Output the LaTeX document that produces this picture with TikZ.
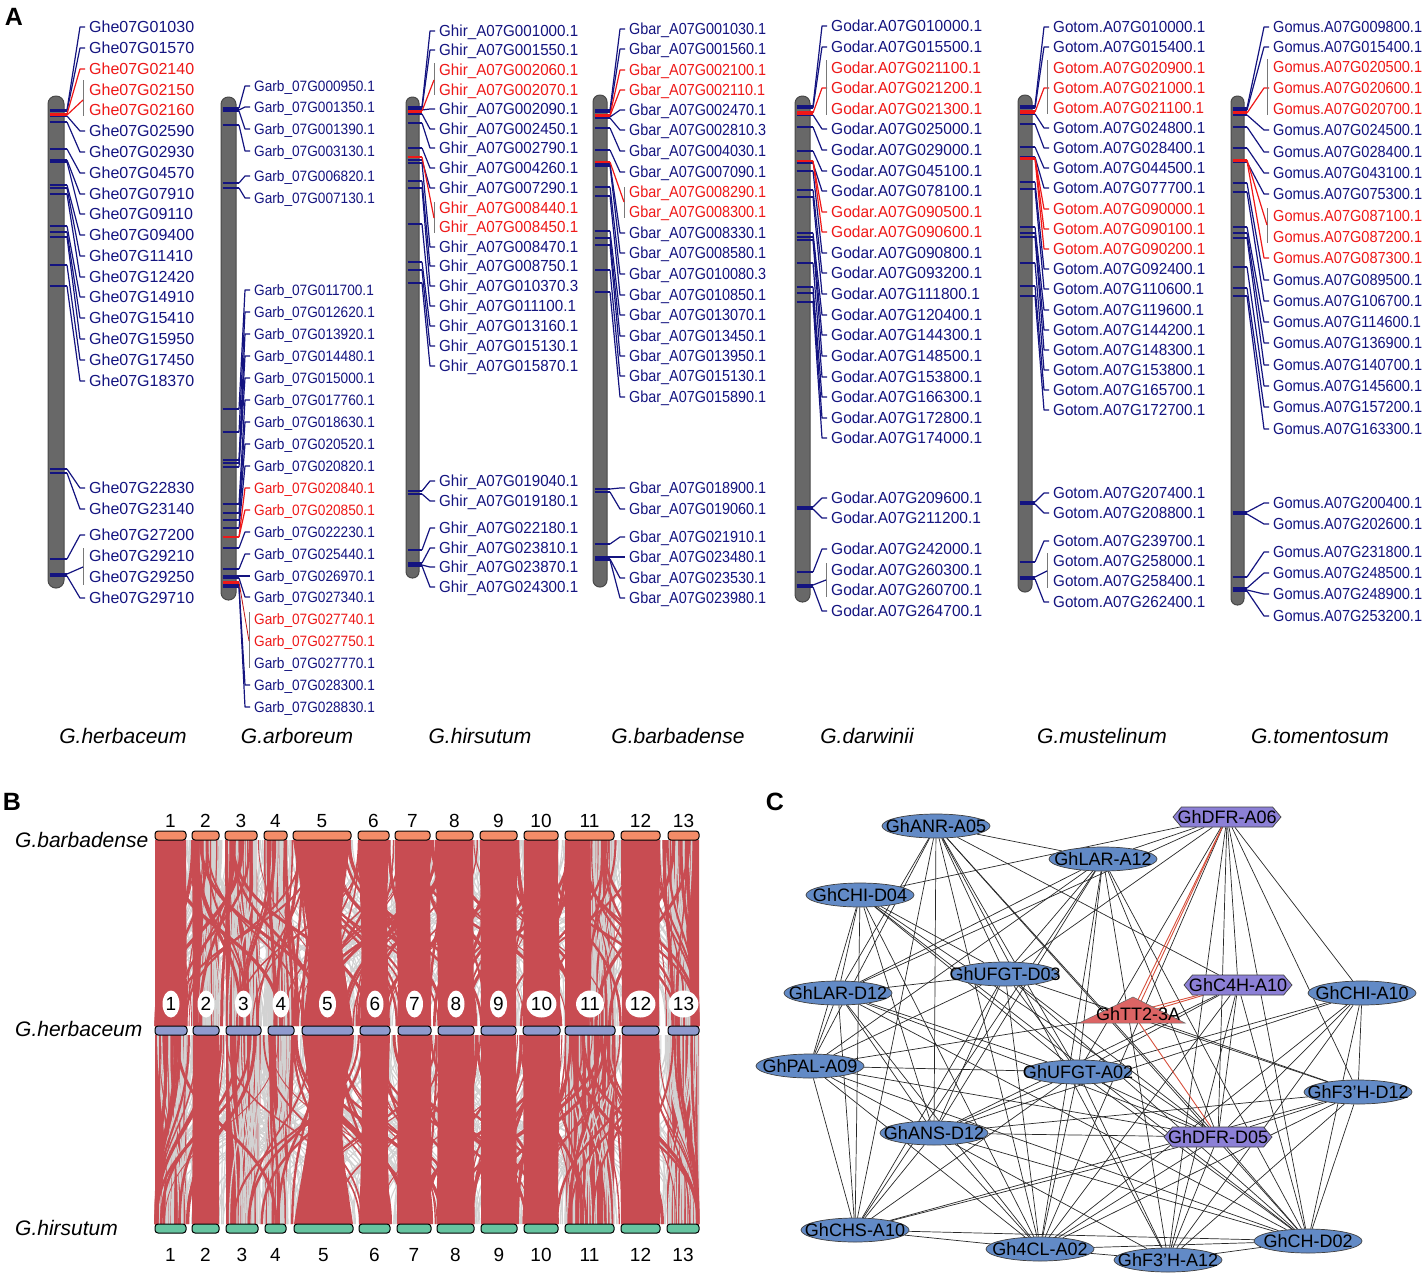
\documentclass[tikz,border=0pt]{standalone}
\usepackage{fontspec}
\setmainfont{Liberation Sans}
\usetikzlibrary{shapes.geometric,shapes.symbols}
\pgfdeclarelayer{bg}
\pgfdeclarelayer{paper}
\pgfsetlayers{paper,bg,main}
\definecolor{gnavy}{RGB}{20,20,128}
\definecolor{gred}{RGB}{238,24,24}
\definecolor{chromfill}{RGB}{104,104,104}
\definecolor{chromline}{RGB}{72,72,72}
\definecolor{brkgray}{RGB}{120,120,120}
\definecolor{ribred}{RGB}{200,76,82}
\definecolor{ribgray}{RGB}{210,210,210}
\definecolor{barT}{RGB}{243,140,104}
\definecolor{barM}{RGB}{143,154,206}
\definecolor{barB}{RGB}{102,196,160}
\definecolor{ellblue}{RGB}{98,138,198}
\definecolor{hexpurple}{RGB}{140,128,214}
\definecolor{trired}{RGB}{220,100,100}
\definecolor{edgeblack}{RGB}{40,40,40}
\definecolor{rededge}{RGB}{215,80,60}

% #1 id, #2 left x, #3 right x, #4 top, #5 bottom, #6 label x, #7 xscale, #8 font size, #9 data
\newcommand{\chromo}[9]{%
  \pgfmathsetmacro\rr{(#3-#2)/2-0.2}%
  \draw[chrom, rounded corners=\rr pt] (#2,#4) rectangle (#3,#5);
  \pgfmathsetmacro\txth{0.716*#8}%
  \foreach \nm/\ly/\my/\tp [count=\i] in {#9} {%
    \ifodd\tp\relax\colorlet{cc}{gred}\else\colorlet{cc}{gnavy}\fi
    \node[glabel, text=cc, font=\fontsize{#8}{#8}\selectfont, text height=\txth pt] (#1-\i) at (#6,\ly) {\scalebox{#7}[1]{\nm}};
    \coordinate (#1-m\i) at (#3+3,\my);
    \ifodd\tp\relax\else\draw[chrtick, draw=gnavy] (#2+1.5,\my) -- (#1-m\i);\fi
    \ifnum\tp<2\relax \draw[glink, draw=cc] (#1-m\i) -- (#6-9,\ly) -- ([xshift=-4pt]#1-\i.west);\fi
  }%
  \foreach \nm/\ly/\my/\tp [count=\i] in {#9} {%
    \ifodd\tp\relax \draw[chrtick, draw=gred, line width=1.9pt] (#2+1.5,\my) -- (#1-m\i);\fi
  }%
}

\begin{document}
\begin{tikzpicture}[x=1pt,y=-1pt,
  chrom/.style={fill=chromfill, draw=chromline, line width=1pt},
  glabel/.style={anchor=west, inner sep=0pt, text depth=0pt},
  chrtick/.style={line width=1.3pt},
  glink/.style={line width=1.2pt, line join=round},
  brk/.style={draw=brkgray, line width=0.9pt},
  spec/.style={font=\fontsize{21}{21}\selectfont\itshape, inner sep=0pt},
  plab/.style={font=\fontsize{25}{25}\selectfont\bfseries, inner sep=0pt},
  bnum/.style={font=\fontsize{19}{19}\selectfont, inner sep=0pt},
  mnum/.style={ellipse, fill=white, inner sep=0pt, minimum width=17pt, minimum height=27pt, font=\fontsize{19}{19}\selectfont},
  bar/.style={draw=black, line width=1pt, rounded corners=3pt},
  gene/.style={ellipse, draw=black!75, line width=0.7pt, fill=ellblue, minimum width=108pt, minimum height=24pt, inner sep=0pt},
  hexa/.style={signal, signal to=east and west, signal pointer angle=100, draw=black!75, line width=0.7pt, fill=hexpurple, minimum width=108pt, minimum height=20pt, inner sep=0pt},
  clabel/.style={font=\fontsize{18}{18}\selectfont, inner sep=0pt, text=black},
  edge/.style={draw=edgeblack, line width=0.7pt},
  redge/.style={draw=rededge, line width=0.9pt}
]
\useasboundingbox (0,0) rectangle (1426,1280);
\begin{pgfonlayer}{paper}
\fill[white] (0,0) rectangle (1426,1280);
\end{pgfonlayer}

%================ Panel A ================
\node[plab] (pA) at (14,17) {A};

\chromo{c1}{48}{64}{96}{588}{89}{1.0}{16}{%
Ghe07G01030/27/110/0, Ghe07G01570/48/111/0, Ghe07G02140/69/114/1, Ghe07G02150/90/115/3, Ghe07G02160/110/115/3,
Ghe07G02590/131/116/0, Ghe07G02930/152/122/0, Ghe07G04570/173/149/0, Ghe07G07910/194/160/0, Ghe07G09110/214/162/0,
Ghe07G09400/235/185/0, Ghe07G11410/256/188/0, Ghe07G12420/277/194/0, Ghe07G14910/297/226/0, Ghe07G15410/318/232/0,
Ghe07G15950/339/237/0, Ghe07G17450/360/265/0, Ghe07G18370/381/286/0, Ghe07G22830/488/469/0, Ghe07G23140/509/473/0,
Ghe07G27200/535/559/0, Ghe07G29210/556/574/2, Ghe07G29250/577/575/2, Ghe07G29710/598/576/0}
\draw[brk] (83,80) -- (83,116);
\coordinate (c1-b1) at (83,100);
\draw[glink, draw=gred] (c1-m4) -- (c1-b1);
\draw[brk] (83,548) -- (83,585);
\coordinate (c1-b2) at (83,567);
\draw[glink, draw=gnavy] (c1-m22) -- (c1-b2);

\chromo{c2}{221}{236}{97}{600}{254}{0.91}{15}{%
Garb\_07G000950.1/86/108/0, Garb\_07G001350.1/107/110/0, Garb\_07G001390.1/129/111/0, Garb\_07G003130.1/151/125/0,
Garb\_07G006820.1/176/183/0, Garb\_07G007130.1/198/188/0, Garb\_07G011700.1/290/409/0, Garb\_07G012620.1/312/432/0,
Garb\_07G013920.1/334/460/0, Garb\_07G014480.1/356/463/0, Garb\_07G015000.1/378/467/0, Garb\_07G017760.1/400/504/0,
Garb\_07G018630.1/422/513/0, Garb\_07G020520.1/444/520/0, Garb\_07G020820.1/466/528/0, Garb\_07G020840.1/488/537/1,
Garb\_07G020850.1/510/537/1, Garb\_07G022230.1/532/548/0, Garb\_07G025440.1/554/569/0, Garb\_07G026970.1/576/576/0,
Garb\_07G027340.1/597/578/0, Garb\_07G027740.1/619/582/3, Garb\_07G027750.1/641/583/3, Garb\_07G027770.1/663/584/2,
Garb\_07G028300.1/685/586/0, Garb\_07G028830.1/707/587/0}
\draw[brk] (249,612) -- (249,668);
\coordinate (c2-b1) at (249,641);
\draw[draw=gred!80!black, line width=0.8pt] (c2-m22) -- (c2-b1);

\chromo{c3}{406}{419}{97}{578}{439}{0.947}{16}{%
Ghir\_A07G001000.1/31/107/0, Ghir\_A07G001550.1/50/108/0, Ghir\_A07G002060.1/70/111/3, Ghir\_A07G002070.1/90/112/3,
Ghir\_A07G002090.1/109/110/0, Ghir\_A07G002450.1/129/114/0, Ghir\_A07G002790.1/148/123/0, Ghir\_A07G004260.1/168/148/0,
Ghir\_A07G007290.1/188/160/0, Ghir\_A07G008440.1/208/157/3, Ghir\_A07G008450.1/227/157/3, Ghir\_A07G008470.1/247/163/0,
Ghir\_A07G008750.1/266/181/0, Ghir\_A07G010370.3/286/188/0, Ghir\_A07G011100.1/306/224/0, Ghir\_A07G013160.1/326/262/0,
Ghir\_A07G015130.1/346/270/0, Ghir\_A07G015870.1/366/283/0, Ghir\_A07G019040.1/481/491/0, Ghir\_A07G019180.1/501/494/0,
Ghir\_A07G022180.1/528/550/0, Ghir\_A07G023810.1/548/563/0, Ghir\_A07G023870.1/567/565/0, Ghir\_A07G024300.1/587/566/0}
\draw[brk] (434,63) -- (434,95);
\coordinate (c3-b1) at (434,80);
\draw[glink, draw=gred] (c3-m3) -- (c3-b1);
\draw[brk] (434,202) -- (434,233);
\coordinate (c3-b2) at (434,218);
\draw[glink, draw=gred] (c3-m10) -- (c3-b2);

\chromo{c4}{593}{607}{95}{587}{629}{0.90}{16}{%
Gbar\_A07G001030.1/29/110/0, Gbar\_A07G001560.1/49/112/0, Gbar\_A07G002100.1/70/115/1, Gbar\_A07G002110.1/90/116/1,
Gbar\_A07G002470.1/110/117/0, Gbar\_A07G002810.3/130/118/0, Gbar\_A07G004030.1/151/128/0, Gbar\_A07G007090.1/172/150/0,
Gbar\_A07G008290.1/192/162/3, Gbar\_A07G008300.1/212/162/3, Gbar\_A07G008330.1/233/164/0, Gbar\_A07G008580.1/253/166/0,
Gbar\_A07G010080.3/274/187/0, Gbar\_A07G010850.1/295/196/0, Gbar\_A07G013070.1/315/231/0, Gbar\_A07G013450.1/336/238/0,
Gbar\_A07G013950.1/356/245/0, Gbar\_A07G015130.1/376/270/0, Gbar\_A07G015890.1/397/292/0, Gbar\_A07G018900.1/488/489/0,
Gbar\_A07G019060.1/509/492/0, Gbar\_A07G021910.1/537/544/0, Gbar\_A07G023480.1/557/557/0, Gbar\_A07G023530.1/578/559/0,
Gbar\_A07G023980.1/598/560/0}
\draw[brk] (624,187) -- (624,218);
\coordinate (c4-b1) at (624,202);
\draw[glink, draw=gred] (c4-m9) -- (c4-b1);

\chromo{c5}{795}{810}{96}{602}{831}{0.97}{16}{%
Godar.A07G010000.1/26/106/0, Godar.A07G015500.1/47/108/0, Godar.A07G021100.1/68/112/3, Godar.A07G021200.1/88/113/1,
Godar.A07G021300.1/109/114/3, Godar.A07G025000.1/129/115/0, Godar.A07G029000.1/150/127/0, Godar.A07G045100.1/171/151/0,
Godar.A07G078100.1/191/163/0, Godar.A07G090500.1/212/161/1, Godar.A07G090600.1/232/161/1, Godar.A07G090800.1/253/171/0,
Godar.A07G093200.1/273/190/0, Godar.A07G111800.1/294/197/0, Godar.A07G120400.1/315/233/0, Godar.A07G144300.1/335/237/0,
Godar.A07G148500.1/356/240/0, Godar.A07G153800.1/377/263/0, Godar.A07G166300.1/397/287/0, Godar.A07G172800.1/418/293/0,
Godar.A07G174000.1/438/302/0, Godar.A07G209600.1/498/507/0, Godar.A07G211200.1/518/509/0, Godar.A07G242000.1/549/572/0,
Godar.A07G260300.1/570/585/2, Godar.A07G260700.1/590/586/2, Godar.A07G264700.1/611/587/0}
\draw[brk] (826,60) -- (826,115);
\draw[brk] (826,563) -- (826,597);
\coordinate (c5-b1) at (826,580);
\draw[glink, draw=gnavy] (c5-m25) -- (c5-b1);

\chromo{c6}{1018}{1032}{95}{592}{1053}{0.95}{16}{%
Gotom.A07G010000.1/27/106/0, Gotom.A07G015400.1/47/108/0, Gotom.A07G020900.1/68/111/3, Gotom.A07G021000.1/88/112/1,
Gotom.A07G021100.1/108/113/3, Gotom.A07G024800.1/128/114/0, Gotom.A07G028400.1/148/124/0, Gotom.A07G044500.1/168/147/0,
Gotom.A07G077700.1/188/157/0, Gotom.A07G090000.1/209/158/1, Gotom.A07G090100.1/229/158/1, Gotom.A07G090200.1/249/159/1,
Gotom.A07G092400.1/269/182/0, Gotom.A07G110600.1/289/189/0, Gotom.A07G119600.1/310/227/0, Gotom.A07G144200.1/330/233/0,
Gotom.A07G148300.1/350/237/0, Gotom.A07G153800.1/370/263/0, Gotom.A07G165700.1/390/286/0, Gotom.A07G172700.1/410/296/0,
Gotom.A07G207400.1/493/502/0, Gotom.A07G208800.1/513/504/0, Gotom.A07G239700.1/541/562/0, Gotom.A07G258000.1/561/577/2,
Gotom.A07G258400.1/581/578/2, Gotom.A07G262400.1/602/579/0}
\draw[brk] (1047,60) -- (1047,114);
\draw[brk] (1047,553) -- (1047,588);
\coordinate (c6-b1) at (1047,571);
\draw[glink, draw=gnavy] (c6-m24) -- (c6-b1);

\chromo{c7}{1231}{1244}{96}{605}{1273}{0.91}{16}{%
Gomus.A07G009800.1/27/108/0, Gomus.A07G015400.1/47/110/0, Gomus.A07G020500.1/67/112/3, Gomus.A07G020600.1/88/113/1,
Gomus.A07G020700.1/109/113/3, Gomus.A07G024500.1/130/115/0, Gomus.A07G028400.1/152/127/0, Gomus.A07G043100.1/173/148/0,
Gomus.A07G075300.1/194/162/0, Gomus.A07G087100.1/216/160/3, Gomus.A07G087200.1/237/161/3, Gomus.A07G087300.1/258/161/1,
Gomus.A07G089500.1/280/183/0, Gomus.A07G106700.1/301/192/0, Gomus.A07G114600.1/322/227/0, Gomus.A07G136900.1/343/233/0,
Gomus.A07G140700.1/365/238/0, Gomus.A07G145600.1/386/267/0, Gomus.A07G157200.1/407/288/0, Gomus.A07G163300.1/429/296/0,
Gomus.A07G200400.1/503/512/0, Gomus.A07G202600.1/524/514/0, Gomus.A07G231800.1/552/577/0, Gomus.A07G248500.1/573/588/0,
Gomus.A07G248900.1/594/590/0, Gomus.A07G253200.1/616/591/0}
\draw[brk] (1267,59) -- (1267,115);
\draw[brk] (1267,208) -- (1267,243);
\coordinate (c7-b1) at (1267,225);
\draw[glink, draw=gred] (c7-m10) -- (c7-b1);

\node[spec] (sp1) at (123,736) {G.herbaceum};
\node[spec] (sp2) at (297,736) {G.arboreum};
\node[spec] (sp3) at (480,736) {G.hirsutum};
\node[spec] (sp4) at (678,736) {G.barbadense};
\node[spec] (sp5) at (867,736) {G.darwinii};
\node[spec] (sp6) at (1102,736) {G.mustelinum};
\node[spec] (sp7) at (1320,736) {G.tomentosum};

%================ Panel B ================
\node[plab] (pB) at (12,802) {B};
\def\blist{155/186/155/187/155/186/0/0, 192/219/193/219/192/219/0/0, 225/257/226/261/226/258/0/0,
264/287/268/294/265/286/0/0, 293/351/302/353/294/353/14/14, 358/389/360/390/359/390/3/3,
395/430/398/431/397/431/0/0, 436/473/438/474/437/474/0/0, 480/517/481/516/481/517/0/0,
524/558/523/560/524/558/0/0, 565/614/565/615/565/614/0/0, 621/660/622/659/621/660/0/0,
668/699/668/699/667/699/0/0}
\pgfmathsetseed{31415}
\foreach \k in {1,...,320}{
  \pgfmathsetmacro\xa{156+542*rnd}
  \pgfmathsetmacro\xb{max(156,min(698,\xa+360*(rnd-0.5)))}
  \draw[ribgray, line width=1.1pt] (\xa,840) .. controls (\xa,933) and (\xb,933) .. (\xb,1026);
  \pgfmathsetmacro\xc{156+542*rnd}
  \pgfmathsetmacro\xd{max(156,min(698,\xc+360*(rnd-0.5)))}
  \draw[ribgray, line width=1.1pt] (\xc,1035) .. controls (\xc,1130) and (\xd,1130) .. (\xd,1224);
}
\foreach \ta/\tb/\ma/\mb/\ba/\bb/\p/\q [count=\i] in \blist {
  \fill[ribred] (\ta,840) .. controls (\ta+\p,933) and (\ma+\p,933) .. (\ma,1026) -- (\mb,1026) .. controls (\mb-\p,933) and (\tb-\p,933) .. (\tb,840) -- cycle;
  \fill[ribred] (\ma,1035) .. controls (\ma+\q,1130) and (\ba+\q,1130) .. (\ba,1224) -- (\bb,1224) .. controls (\bb-\q,1130) and (\mb-\q,1130) .. (\mb,1035) -- cycle;
}
% gray webs laid over parts of the red bands
\foreach \za/\zb/\ya/\yb/\ym in {198/222/840/1026/933, 228/262/840/1026/933, 264/292/840/1026/933, 590/616/840/1026/933, 666/692/840/1026/933,
  156/190/1035/1224/1130, 228/262/1035/1224/1130, 262/292/1035/1224/1130, 565/616/1035/1224/1130, 664/699/1035/1224/1130}{
  \foreach \k in {1,...,24}{
    \pgfmathsetmacro\xa{\za+(\zb-\za)*rnd}
    \pgfmathsetmacro\xb{\za+(\zb-\za)*rnd}
    \draw[ribgray, line width=1.3pt] (\xa,\ya) .. controls (\xa,\ym) and (\xb,\ym) .. (\xb,\yb);
  }
}
\foreach \k in {1,...,130}{
  \pgfmathsetmacro\xa{156+542*rnd}
  \pgfmathsetmacro\xb{max(156,min(698,\xa+300*(rnd-0.5)))}
  \pgfmathsetmacro\lw{0.8+2.6*rnd}
  \draw[ribred, line width=\lw pt] (\xa,840) .. controls (\xa,933) and (\xb,933) .. (\xb,1026);
  \pgfmathsetmacro\xc{156+542*rnd}
  \pgfmathsetmacro\xd{max(156,min(698,\xc+300*(rnd-0.5)))}
  \pgfmathsetmacro\lv{0.8+2.6*rnd}
  \draw[ribred, line width=\lv pt] (\xc,1035) .. controls (\xc,1130) and (\xd,1130) .. (\xd,1224);
}
\foreach \ta/\tb/\ma/\mb/\ba/\bb/\p/\q [count=\i] in \blist {
  \draw[bar, fill=barT] (\ta,831) rectangle (\tb,840);
  \draw[bar, fill=barM] (\ma,1026) rectangle (\mb,1035);
  \draw[bar, fill=barB] (\ba,1224) rectangle (\bb,1233);
  \node[bnum] (tn\i) at ({(\ta+\tb)/2},821) {\i};
  \node[mnum] (mn\i) at ({(\ma+\mb)/2},1004) {\i};
  \node[bnum] (bn\i) at ({(\ba+\bb)/2},1255) {\i};
}
\node[spec, anchor=west] (lb1) at (15,840) {G.barbadense};
\node[spec, anchor=west] (lb2) at (15,1029) {G.herbaceum};
\node[spec, anchor=west] (lb3) at (15,1228) {G.hirsutum};

%================ Panel C ================
\node[plab] (pC) at (775,802) {C};
\node[gene] (ANR) at (936,826) {};
\node[hexa] (DFRA6) at (1227,817) {};
\node[gene] (LARA12) at (1103,859) {};
\node[gene] (CHID04) at (860,895) {};
\node[gene] (UFGTD03) at (1005,974) {};
\node[hexa] (C4H) at (1238,985) {};
\node[gene] (CHIA10) at (1362,993) {};
\node[gene] (LARD12) at (838,993) {};
\coordinate (TT2) at (1133,1014);
\fill[trired, draw=black!60, line width=0.5pt] (1079,1023) -- (1133,997) -- (1185,1023) -- cycle;
\node[gene] (PAL) at (810,1066) {};
\node[gene] (UFGTA02) at (1078,1072) {};
\node[gene] (F3HD12) at (1358,1092) {};
\node[gene] (ANS) at (934,1133) {};
\node[hexa] (DFRD05) at (1218,1137) {};
\node[gene] (CHS) at (855,1230) {};
\node[gene] (CL4) at (1040,1249) {};
\node[gene] (F3HA12) at (1168,1260) {};
\node[gene] (CH) at (1308,1241) {};

\node[clabel] (ANR-t) at (ANR) {GhANR-A05};
\node[clabel] (DFRA6-t) at (DFRA6) {GhDFR-A06};
\node[clabel] (LARA12-t) at (LARA12) {GhLAR-A12};
\node[clabel] (CHID04-t) at (CHID04) {GhCHI-D04};
\node[clabel] (UFGTD03-t) at (UFGTD03) {GhUFGT-D03};
\node[clabel] (C4H-t) at (C4H) {GhC4H-A10};
\node[clabel] (CHIA10-t) at (CHIA10) {GhCHI-A10};
\node[clabel] (LARD12-t) at (LARD12) {GhLAR-D12};
\node[clabel] (TT2-t) at (1138,1014) {GhTT2-3A};
\node[clabel] (PAL-t) at (PAL) {GhPAL-A09};
\node[clabel] (UFGTA02-t) at (UFGTA02) {GhUFGT-A02};
\node[clabel] (F3HD12-t) at (F3HD12) {GhF3'H-D12};
\node[clabel] (ANS-t) at (ANS) {GhANS-D12};
\node[clabel] (DFRD05-t) at (DFRD05) {GhDFR-D05};
\node[clabel] (CHS-t) at (CHS) {GhCHS-A10};
\node[clabel] (CL4-t) at (CL4) {Gh4CL-A02};
\node[clabel] (F3HA12-t) at (F3HA12) {GhF3'H-A12};
\node[clabel] (CH-t) at (CH) {GhCH-D02};

\begin{pgfonlayer}{bg}
\foreach \a/\b in {ANR/LARA12, ANR/LARD12, ANR/PAL, ANR/ANS, ANR/CHS, ANR/CL4, ANR/UFGTA02, ANR/UFGTD03, ANR/DFRD05, ANR/C4H, ANR/CH, ANR/F3HA12,
DFRA6/LARA12, DFRA6/CHID04, DFRA6/UFGTD03, DFRA6/LARD12, DFRA6/C4H, DFRA6/CHIA10, DFRA6/F3HD12, DFRA6/DFRD05, DFRA6/CH, DFRA6/F3HA12, DFRA6/CL4, DFRA6/UFGTA02,
LARA12/LARD12, LARA12/PAL, LARA12/UFGTD03, LARA12/UFGTA02, LARA12/ANS, LARA12/CL4, LARA12/DFRD05, LARA12/CH, LARA12/F3HA12, LARA12/CHS,
CHID04/LARD12, CHID04/PAL, CHID04/CHS, CHID04/UFGTA02, CHID04/ANS, CHID04/CL4, CHID04/DFRD05, CHID04/UFGTD03, CHID04/CH,
UFGTD03/LARD12, UFGTD03/PAL, UFGTD03/ANS, UFGTD03/CL4, UFGTD03/UFGTA02, UFGTD03/CH, UFGTD03/F3HD12, UFGTD03/DFRD05, UFGTD03/CHS,
C4H/UFGTA02, C4H/ANS, C4H/CL4, C4H/DFRD05, C4H/CH, C4H/F3HA12,
CHIA10/F3HD12, CHIA10/CH, CHIA10/DFRD05, CHIA10/CL4, CHIA10/ANS, CHIA10/UFGTA02, CHIA10/F3HA12,
LARD12/PAL, LARD12/CHS, LARD12/ANS, LARD12/UFGTA02, LARD12/DFRD05, LARD12/CL4, LARD12/CH,
PAL/UFGTA02, PAL/ANS, PAL/CHS, PAL/CL4, PAL/DFRD05, PAL/TT2, PAL/CH,
UFGTA02/ANS, UFGTA02/CL4, UFGTA02/DFRD05, UFGTA02/CH, UFGTA02/F3HA12, UFGTA02/CHS,
F3HD12/ANS, F3HD12/DFRD05, F3HD12/CH, F3HD12/CL4, F3HD12/F3HA12, F3HD12/CHS,
ANS/DFRD05, ANS/CL4, ANS/CHS, ANS/CH, ANS/F3HA12,
DFRD05/CH, DFRD05/CL4, DFRD05/F3HA12, DFRD05/CHS,
CHS/CL4, CHS/CH, CL4/F3HA12, CL4/CH, F3HA12/CH, TT2/F3HD12}
{ \draw[edge] (\a) -- (\b); }
\draw[redge] ([xshift=-2pt]TT2) -- ([xshift=-2pt]DFRA6);
\draw[redge] ([xshift=2pt]TT2) -- ([xshift=2pt]DFRA6);
\draw[redge] ([yshift=-2pt]TT2) -- ([yshift=-2pt]C4H);
\draw[redge] ([yshift=2pt]TT2) -- ([yshift=2pt]C4H);
\draw[redge] (TT2) -- (DFRD05);
\end{pgfonlayer}
\end{tikzpicture}
\end{document}
